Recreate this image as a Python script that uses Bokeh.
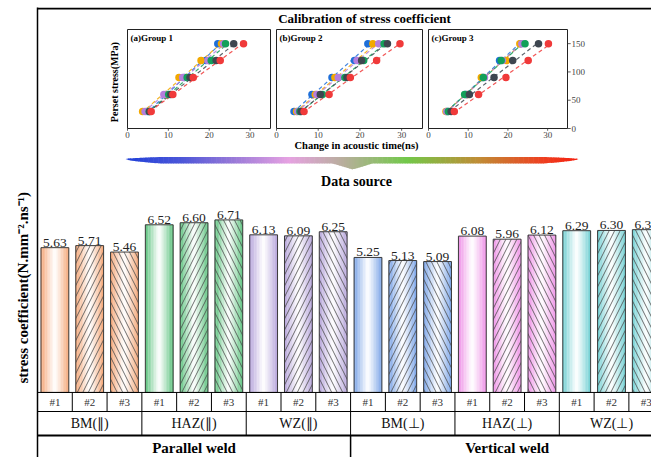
import numpy as np
from bokeh.plotting import figure
from bokeh.models import Range1d, FixedTicker, Title
from bokeh.core.properties import value
from bokeh.embed import file_html
from bokeh.resources import INLINE

# ---------------- data ----------------
weld_types = ["Parallel weld", "Vertical weld"]
regions = ["BM(\u2225)", "HAZ(\u2225)", "WZ(\u2225)", "BM(\u22a5)", "HAZ(\u22a5)", "WZ(\u22a5)"]
samples = ["#1", "#2", "#3"]

coef_bm_parallel = [5.63, 5.71, 5.46]
coef_haz_parallel = [6.52, 6.60, 6.71]
coef_wz_parallel = [6.13, 6.09, 6.25]
coef_bm_vertical = [5.25, 5.13, 5.09]
coef_haz_vertical = [6.08, 5.96, 6.12]
coef_wz_vertical = [6.29, 6.30, 6.33]

region_colors = ["#F4A676", "#5CC27E", "#B5A3DA", "#78A2E6", "#EE8FE6", "#70CFD2"]
sample_hatches = ["", "/", "\\"]

inset_titles = ["(a)Group 1", "(b)Group 2", "(c)Group 3"]
preset_stress = [30, 60, 90, 120, 150]
series_colors = ["#1E6FD9", "#F2A900", "#B57EDC", "#12A05A", "#3E4650", "#F03A3A"]
group1_time = [
    [4.9, 9.6, 13.9, 19.2, 22.1],
    [3.7, 9.4, 12.6, 18.0, 23.0],
    [4.3, 8.9, 13.5, 19.7, 23.5],
    [5.3, 10.1, 14.6, 20.5, 24.0],
    [5.4, 10.6, 15.3, 21.7, 26.0],
    [5.8, 11.1, 16.1, 22.7, 28.4],
]
group2_time = [
    [4.2, 8.5, 13.3, 18.7, 21.9],
    [4.8, 9.3, 14.0, 20.1, 23.1],
    [5.1, 9.7, 14.8, 19.3, 24.5],
    [5.6, 11.0, 16.4, 20.9, 25.8],
    [5.9, 10.5, 16.9, 20.4, 26.6],
    [6.6, 12.6, 17.7, 24.0, 29.6],
]
group3_time = [
    [4.8, 9.3, 13.6, 17.9, 23.2],
    [4.4, 9.9, 13.3, 19.6, 23.0],
    [4.6, 9.6, 14.1, 18.6, 23.5],
    [5.0, 9.1, 13.8, 18.3, 24.3],
    [5.7, 10.3, 16.5, 21.2, 27.7],
    [6.5, 12.6, 19.5, 25.1, 30.2],
]
inset_x_ticks = [0, 10, 20, 30]
inset_y_ticks = [0, 50, 100, 150]

gradient_stops = [0.0, 0.12, 0.24, 0.36, 0.48, 0.62, 0.78, 0.92, 1.0]
gradient_colors = ["#1F3FD8", "#4A55D8", "#9A7AD8", "#E6A2E2", "#B8AE9C",
                   "#72C84A", "#C08C36", "#EE4020", "#F52010"]

# ---------------- helpers ----------------
W, H = 651, 457
FL, FT = 37, 7
XR = (0.0, 17.65)
YR = (-2.53, 14.97)
SERIF = "Liberation Serif"


def X(px):
    return XR[0] + (px - FL) / (W - FL) * (XR[1] - XR[0])


def Y(py):
    return YR[1] - (py - FT) / (H - FT) * (YR[1] - YR[0])


def rgb(h):
    h = h.lstrip("#")
    return np.array([int(h[i:i + 2], 16) for i in (0, 2, 4)], dtype=float)


def tohex(c):
    c = np.clip(np.round(c), 0, 255).astype(int)
    return "#%02x%02x%02x" % tuple(c)


# ---------------- figure ----------------
p = figure(width=W, height=H, x_range=Range1d(*XR), y_range=Range1d(*YR),
           output_backend="svg", toolbar_location=None, x_axis_location=None,
           min_border_left=FL, min_border_top=FT, min_border_right=0, min_border_bottom=0)
p.outline_line_color = None
p.grid.visible = False
p.background_fill_color = "white"
ax = p.yaxis[0]
ax.ticker = FixedTicker(ticks=[])
ax.minor_tick_line_color = None
ax.major_tick_out = 0
ax.major_tick_in = 0
ax.major_label_standoff = 0
ax.major_label_text_font_size = "0px"
ax.axis_line_width = 1.5
ax.axis_line_color = "black"
p.add_layout(Title(text="stress coefficient(N.mm\u207b\u00b2.ns\u207b\u00b9)", align="left", offset=74,
                   text_font=SERIF, text_font_size="15px", text_font_style="bold",
                   text_color="black", standoff=14), "left")

# top border
p.segment(x0=[XR[0]], x1=[XR[1]], y0=[Y(8)], y1=[Y(8)], line_color="black", line_width=2)

# ---------------- bars ----------------
coefs = (coef_bm_parallel + coef_haz_parallel + coef_wz_parallel +
         coef_bm_vertical + coef_haz_vertical + coef_wz_vertical)
n = len(coefs)
xc = np.arange(n) + 0.5
BW = 0.8
NS = 18
white = np.array([255.0, 255.0, 255.0])
sx, stop, scol = [], [], []
for i in range(n):
    c = rgb(region_colors[i // 3])
    for j in range(NS):
        u = (j + 0.5) / NS
        t = abs(2 * u - 1) ** 1.1
        sx.append(xc[i] - BW / 2 + u * BW)
        stop.append(coefs[i])
        scol.append(tohex(white * (1 - t) + c * t))
p.vbar(x=sx, top=stop, bottom=0, width=BW / NS * 1.15, fill_color=scol, line_color=None)

hx, htop, hpat = [], [], []
for i in range(n):
    pat = sample_hatches[i % 3]
    if pat:
        hx.append(xc[i]); htop.append(coefs[i]); hpat.append(pat)
p.vbar(x=hx, top=htop, bottom=0, width=BW, fill_color=None, line_color=None,
       hatch_pattern=hpat, hatch_color="#4a4a4a", hatch_scale=11, hatch_weight=0.8)
p.vbar(x=xc, top=coefs, bottom=0, width=BW, fill_color=None, line_color="#3a3a3a", line_width=1)
p.text(x=xc, y=coefs, text=["%.2f" % v for v in coefs], text_align="center", text_baseline="bottom",
       y_offset=-1, text_font=value(SERIF), text_font_size="13.5px", text_color="#222222")

# ---------------- category table ----------------
r1, r2 = Y(411), Y(435)
p.segment(x0=[XR[0]] * 2, x1=[XR[1]] * 2, y0=[0, r1], y1=[0, r1], line_color="black", line_width=1)
p.segment(x0=[XR[0]], x1=[XR[1]], y0=[r2], y1=[r2], line_color="black", line_width=1.8)
k1 = np.arange(1, n)
p.segment(x0=k1, x1=k1, y0=0, y1=r1, line_color="black", line_width=1)
k2 = np.arange(3, n, 3)
p.segment(x0=k2, x1=k2, y0=r1, y1=r2, line_color="black", line_width=1)
k3 = np.arange(9, n, 9)
p.segment(x0=k3, x1=k3, y0=r2, y1=YR[0], line_color="black", line_width=1.5)

p.text(x=xc, y=(0 + r1) / 2, text=[samples[i % 3] for i in range(n)], text_align="center",
       text_baseline="middle", text_font=value(SERIF), text_font_size="11px", text_color="#333333")
reg_x = np.arange(len(regions)) * 3 + 1.5
p.text(x=reg_x, y=(r1 + r2) / 2, text=regions, text_align="center", text_baseline="middle",
       text_font=value(SERIF), text_font_size="14px", text_color="#111111")
weld_x = np.arange(len(weld_types)) * 9 + 4.5
p.text(x=weld_x, y=Y(447), text=weld_types, text_align="center", text_baseline="middle",
       text_font=value(SERIF), text_font_size="15px", text_font_style="bold", text_color="black")

# ---------------- insets ----------------
inset_boxes = [(127, 270), (276, 422), (428, 567)]
inset_data = [group1_time, group2_time, group3_time]
IX = (0, 35)
IYR = (0, 175)
for g, (l, r) in enumerate(inset_boxes):
    s = p.subplot(x_source=Range1d(*IX), y_source=Range1d(*IYR),
                  x_target=Range1d(X(l), X(r)), y_target=Range1d(Y(128), Y(29)))
    s.quad(left=[IX[0]], right=[IX[1]], bottom=[IYR[0]], top=[IYR[1]], fill_color=None,
           line_color="#222222", line_width=1)
    for k, col in enumerate(series_colors):
        t = np.array(inset_data[g][k])
        a, b = np.polyfit(t, preset_stress, 1)
        xs = np.array([t.min() - 0.3, t.max() + 0.3])
        s.line(xs, a * xs + b, line_color=col, line_dash="4 3", line_width=1.2, line_alpha=0.85)
    for k, col in enumerate(series_colors):
        s.scatter(inset_data[g][k], preset_stress, size=7.5, fill_color=col, line_color=None)
    # x ticks
    s.segment(x0=inset_x_ticks, x1=inset_x_ticks, y0=0, y1=-4, line_color="#333333", line_width=0.8)
    s.text(x=inset_x_ticks, y=[0] * 4, text=[str(v) for v in inset_x_ticks], text_align="center",
           text_baseline="top", y_offset=3, text_font=value(SERIF), text_font_size="9px",
           text_color="#444444")
    s.text(x=[0], y=[IYR[1]], text=[inset_titles[g]], text_align="left", text_baseline="top",
           x_offset=3, y_offset=3, text_font=value(SERIF), text_font_size="9px",
           text_font_style="bold", text_color="black")
    if g == 0:
        s.text(x=[0], y=[82], text=["Perset stress(MPa)"], angle=np.pi / 2, text_align="center",
               text_baseline="bottom", x_offset=-8, text_font=value(SERIF), text_font_size="10px",
               text_font_style="bold", text_color="black")
    if g == 2:
        s.segment(x0=IX[1], x1=IX[1] + 0.8, y0=inset_y_ticks, y1=inset_y_ticks,
                  line_color="#333333", line_width=0.8)
        s.text(x=[IX[1]] * 4, y=inset_y_ticks, text=[str(v) for v in inset_y_ticks],
               text_align="left", text_baseline="middle", x_offset=4, text_font=value(SERIF),
               text_font_size="9px", text_color="#444444")

# ---------------- headings ----------------
p.text(x=[X(364)], y=[Y(18)], text=["Calibration of stress coefficient"], text_align="center",
       text_baseline="middle", text_font=value(SERIF), text_font_size="13px",
       text_font_style="bold", text_color="black")
p.text(x=[X(356)], y=[Y(145)], text=["Change in acoustic time(ns)"], text_align="center",
       text_baseline="middle", text_font=value(SERIF), text_font_size="10.5px",
       text_font_style="bold", text_color="black")
p.text(x=[X(356)], y=[Y(181)], text=["Data source"], text_align="center",
       text_baseline="middle", text_font=value(SERIF), text_font_size="14px",
       text_font_style="bold", text_color="black")

# ---------------- gradient brace ----------------
bx0, bx1 = 125.0, 578.0
NB = 180
edges = np.linspace(bx0, bx1, NB + 1)
stops_rgb = np.array([rgb(c) for c in gradient_colors])


def brace(xp):
    d = max(0.0, min(xp - bx0, bx1 - xp))
    sft = min(1.0, d / 35.0) ** 0.6
    top = 158.5 - 2.0 * sft
    bot = 158.5 + 4.5 * sft + max(0.0, 6.0 * (1 - abs(xp - 352.0) / 20.0))
    return top, bot


bxs, bys, bcols = [], [], []
for a, b in zip(edges[:-1], edges[1:]):
    b2 = min(b + 0.6, bx1)
    ta, ba = brace(a)
    tb, bb = brace(b2)
    bxs.append([X(a), X(b2), X(b2), X(a)])
    bys.append([Y(ta), Y(tb), Y(bb), Y(ba)])
    u = ((a + b) / 2 - bx0) / (bx1 - bx0)
    c = np.array([np.interp(u, gradient_stops, stops_rgb[:, ch]) for ch in range(3)])
    bcols.append(tohex(c))
p.patches(xs=bxs, ys=bys, fill_color=bcols, line_color=None)

open("out.html", "w").write(file_html(p, INLINE))
